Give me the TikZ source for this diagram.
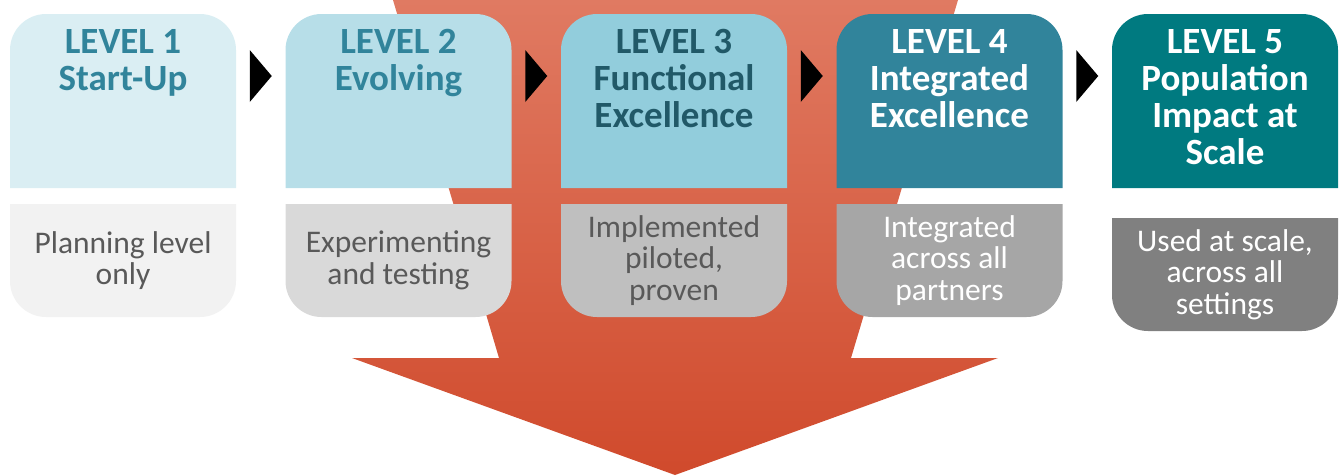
\documentclass[tikz,border=0pt]{standalone}
\usepackage{fontspec}
\setmainfont{Carlito}
\usetikzlibrary{positioning, calc}
\definecolor{arrowtop}{HTML}{E07A62}
\definecolor{arrowbot}{HTML}{D04A2C}
\definecolor{headA}{HTML}{DAEEF3}
\definecolor{headB}{HTML}{B7DEE8}
\definecolor{headC}{HTML}{92CDDC}
\definecolor{headD}{HTML}{31849B}
\definecolor{headE}{HTML}{007A80}
\definecolor{noteA}{HTML}{F2F2F2}
\definecolor{noteB}{HTML}{D9D9D9}
\definecolor{noteC}{HTML}{BFBFBF}
\definecolor{noteD}{HTML}{A6A6A6}
\definecolor{noteE}{HTML}{808080}
\definecolor{tealink}{HTML}{31849B}
\definecolor{darkink}{HTML}{215968}
\definecolor{greyink}{HTML}{595959}
\tikzset{
  headbox/.style={rectangle, minimum width=226pt, minimum height=174pt, inner sep=0pt, outer sep=0pt},
  notebox/.style={rectangle, minimum width=226pt, minimum height=113pt, inner sep=0pt, outer sep=0pt},
  headtext/.style={anchor=north, align=center, inner sep=0pt, font=\fontsize{37}{37}\selectfont\bfseries},
  notetext/.style={align=center, inner sep=0pt, font=\fontsize{31.5}{31.5}\selectfont},
  roundcorner/.style={rounded corners=36pt},
  chevron/.style={fill=black}
}

\begin{document}
\begin{tikzpicture}[x=1pt, y=-1pt, node distance=16pt and 49.5pt]
    \useasboundingbox (0,0) rectangle (1339,475);

    % Big arrow behind the levels
    \shade[top color=arrowtop, bottom color=arrowbot] (393,0) -- (958,0) -- (851,358) -- (998,358) -- (675,475) -- (352,358) -- (499,358) -- cycle;

    % Level headers
    \node[headbox] (head1) at (123,101) {};
    \node[headbox, right=of head1] (head2) {};
    \node[headbox, right=of head2] (head3) {};
    \node[headbox, right=of head3] (head4) {};
    \node[headbox, right=of head4] (head5) {};
    \fill[headA] (head1.south west) [roundcorner] -- (head1.north west) -- (head1.north east) [sharp corners] -- (head1.south east) -- cycle;
    \fill[headB] (head2.south west) [roundcorner] -- (head2.north west) -- (head2.north east) [sharp corners] -- (head2.south east) -- cycle;
    \fill[headC] (head3.south west) [roundcorner] -- (head3.north west) -- (head3.north east) [sharp corners] -- (head3.south east) -- cycle;
    \fill[headD] (head4.south west) [roundcorner] -- (head4.north west) -- (head4.north east) [sharp corners] -- (head4.south east) -- cycle;
    \fill[headE] (head5.south west) [roundcorner] -- (head5.north west) -- (head5.north east) [sharp corners] -- (head5.south east) -- cycle;
    \node[headtext, text=tealink, below=15pt of head1.north] (title1) {LEVEL 1\\Start-Up};
    \node[headtext, text=tealink, below=15pt of head2.north] (title2) {LEVEL 2\\Evolving};
    \node[headtext, text=darkink, below=15pt of head3.north] (title3) {LEVEL 3\\Functional\\Excellence};
    \node[headtext, text=white, below=15pt of head4.north] (title4) {LEVEL 4\\Integrated\\Excellence};
    \node[headtext, text=white, below=15pt of head5.north] (title5) {LEVEL 5\\Population\\Impact at\\Scale};

    % Chevrons between levels
    \coordinate (chev1) at ($(head1.north east)!0.5!(head2.north west) + (0,62)$);
    \coordinate (chev2) at ($(head2.north east)!0.5!(head3.north west) + (0,62)$);
    \coordinate (chev3) at ($(head3.north east)!0.5!(head4.north west) + (0,62)$);
    \coordinate (chev4) at ($(head4.north east)!0.5!(head5.north west) + (0,62)$);
    \fill[chevron] (chev1) +(-11,-26) -- +(11,0) -- +(-11,26) -- cycle;
    \fill[chevron] (chev2) +(-11,-26) -- +(11,0) -- +(-11,26) -- cycle;
    \fill[chevron] (chev3) +(-11,-26) -- +(11,0) -- +(-11,26) -- cycle;
    \fill[chevron] (chev4) +(-11,-26) -- +(11,0) -- +(-11,26) -- cycle;

    % Descriptions
    \node[notebox, below=of head1] (note1) {};
    \node[notebox, below=of head2] (note2) {};
    \node[notebox, below=of head3] (note3) {};
    \node[notebox, below=of head4] (note4) {};
    \node[notebox, below=30pt of head5] (note5) {};
    \fill[noteA] (note1.north west) [roundcorner] -- (note1.south west) -- (note1.south east) [sharp corners] -- (note1.north east) -- cycle;
    \fill[noteB] (note2.north west) [roundcorner] -- (note2.south west) -- (note2.south east) [sharp corners] -- (note2.north east) -- cycle;
    \fill[noteC] (note3.north west) [roundcorner] -- (note3.south west) -- (note3.south east) [sharp corners] -- (note3.north east) -- cycle;
    \fill[noteD] (note4.north west) [roundcorner] -- (note4.south west) -- (note4.south east) [sharp corners] -- (note4.north east) -- cycle;
    \fill[noteE] (note5.north west) [roundcorner] -- (note5.south west) -- (note5.south east) [sharp corners] -- (note5.north east) -- cycle;
    \node[notetext, text=greyink] (desc1) at (note1) {Planning level\\only};
    \node[notetext, text=greyink] (desc2) at (note2) {Experimenting\\and testing};
    \node[notetext, text=greyink] (desc3) at (note3) {Implemented\\piloted,\\proven};
    \node[notetext, text=white] (desc4) at (note4) {Integrated\\across all\\partners};
    \node[notetext, text=white] (desc5) at (note5) {Used at scale,\\across all\\settings};
\end{tikzpicture}
\end{document}
